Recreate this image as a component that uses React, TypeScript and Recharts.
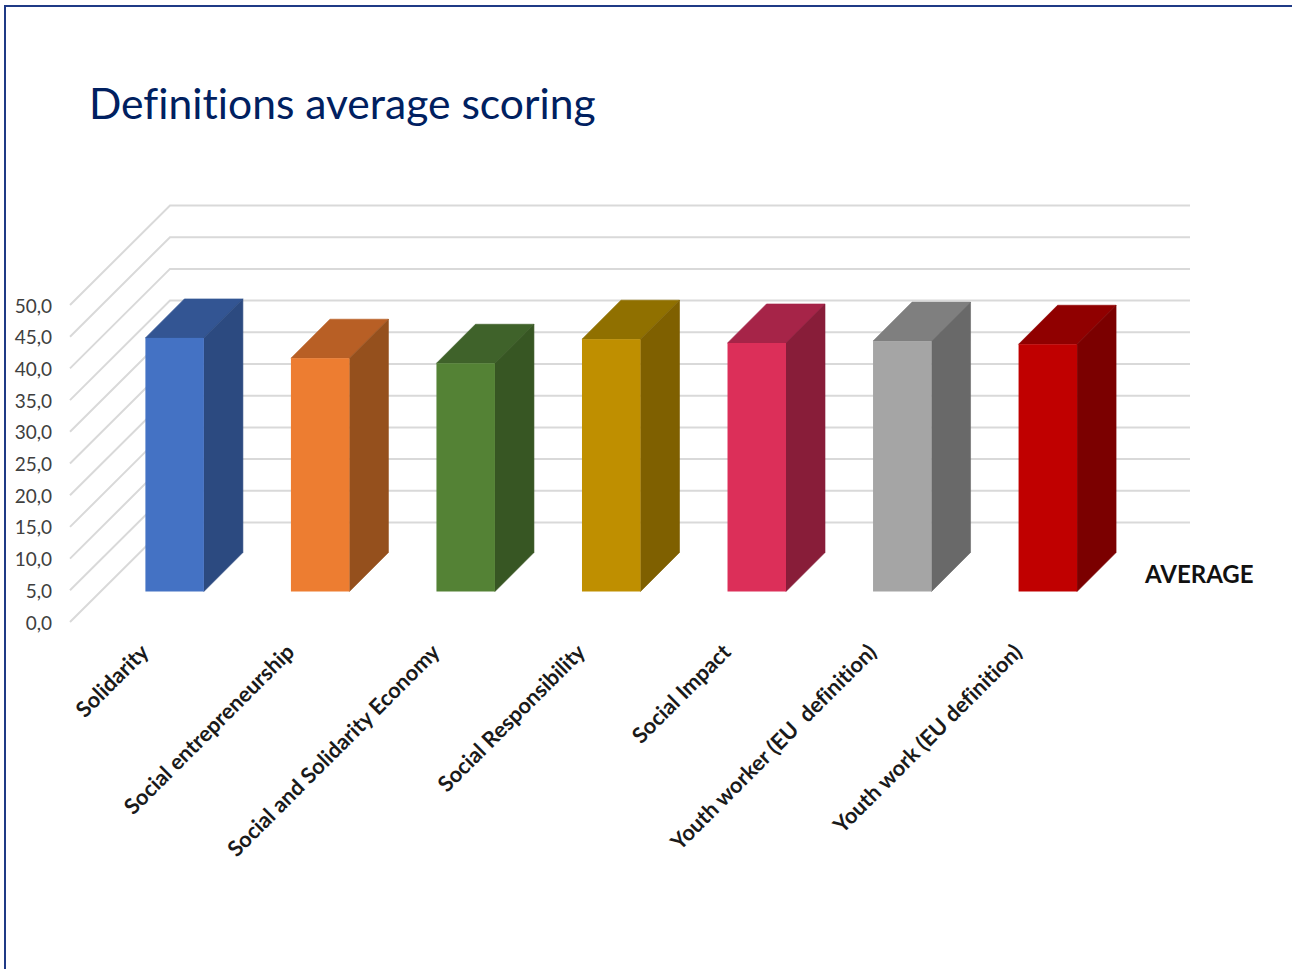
import React from 'react';
import { BarChart, Bar, XAxis, YAxis, CartesianGrid } from 'recharts';

const categories = [
  'Solidarity',
  'Social entrepreneurship',
  'Social and Solidarity Economy',
  'Social Responsibility',
  'Social Impact',
  'Youth worker (EU  definition)',
  'Youth work (EU definition)',
];
const averages = [40.0, 36.8, 36.0, 39.8, 39.2, 39.5, 39.0];
const yTicks = [0, 5, 10, 15, 20, 25, 30, 35, 40, 45, 50];

const frontColors = ['#4472C4', '#ED7D31', '#548235', '#BF8F00', '#DC2F59', '#A5A5A5', '#C00000'];
const topColors = ['#335593', '#B85F25', '#3F622A', '#907000', '#A62448', '#7F7F7F', '#900000'];
const sideColors = ['#2C4A80', '#95501D', '#375623', '#7F6000', '#881D39', '#696969', '#7B0000'];

const data = categories.map((name, i) => ({ name, average: averages[i] }));

const FONT = 'Lato, sans-serif';
const DEPTH = 39; // bar depth in the fake 3D view
const WALL_DX = 69; // bar plane to back wall
const FRONT_DY = 30.5; // bar plane to front edge of the floor

function Bar3D(props: any) {
  const { x, y, width, height, index } = props;
  const r = x + width;
  const b = y + height;
  return (
    <g strokeWidth={0.6}>
      <polygon points={`${x},${y} ${x + DEPTH},${y - DEPTH} ${r + DEPTH},${y - DEPTH} ${r},${y}`} fill={topColors[index]} stroke={topColors[index]} />
      <polygon points={`${r},${y} ${r + DEPTH},${y - DEPTH} ${r + DEPTH},${b - DEPTH} ${r},${b}`} fill={sideColors[index]} stroke={sideColors[index]} />
      <rect x={x} y={y} width={width} height={height} fill={frontColors[index]} />
    </g>
  );
}

function GridLine(props: any) {
  const { y1, index } = props;
  const back = y1 - WALL_DX;
  return (
    <g key={index}>
      <polyline
        points={`70,${y1 + FRONT_DY} 170,${back} 1190,${back}`}
        fill="none"
        stroke="#D9D9D9"
        strokeWidth={2}
      />
    </g>
  );
}

function YTick(props: any) {
  const { y, payload } = props;
  return (
    <text x={52} y={y + FRONT_DY} textAnchor="end" dominantBaseline="central" fontSize={19} fontFamily={FONT} fill="#404040">
      {payload.value.toFixed(1).replace('.', ',')}
    </text>
  );
}

function XTick(props: any) {
  const { x, y, payload } = props;
  const ax = x - 24;
  const ay = y + 54;
  return (
    <text
      x={ax}
      y={ay}
      textAnchor="end"
      fontSize={21.8}
      fontWeight={700}
      fontFamily={FONT}
      fill="#1a1a1a"
      style={{ whiteSpace: 'pre', fontVariantLigatures: 'none' }}
      transform={`rotate(-45 ${ax} ${ay})`}
    >
      {payload.value}
    </text>
  );
}

export default function App() {
  return (
    <div style={{ position: 'fixed', left: 0, top: 0, width: 1292, height: 969, background: '#fff', overflow: 'hidden' }}>
      <div style={{ position: 'absolute', left: 4, top: 5, width: 1286, height: 970, borderLeft: '2px solid #1F3A86', borderTop: '2px solid #1F3A86', borderRight: '2px solid #B4BCD8' }} />
      <div style={{ position: 'absolute', left: 89, top: 78, fontFamily: FONT, fontSize: 42.6, lineHeight: '50px', color: '#002060', whiteSpace: 'nowrap', fontVariantLigatures: 'none' }}>
        Definitions average scoring
      </div>
      <div style={{ position: 'absolute', left: 1145, top: 560, fontFamily: FONT, fontSize: 24, fontWeight: 700, lineHeight: '28px', color: '#111' }}>
        AVERAGE
      </div>
      <div style={{ position: 'absolute', left: 0, top: 0 }}>
        <BarChart
          width={1292}
          height={969}
          data={data}
          margin={{ top: 274.5, right: 171.9, bottom: 347.5, left: 100.4 }}
        >
          <CartesianGrid vertical={false} horizontal={GridLine as any} />
          <XAxis dataKey="name" interval={0} height={30} axisLine={false} tickLine={false} tick={XTick as any} />
          <YAxis width={1} domain={[0, 50]} ticks={yTicks} axisLine={false} tickLine={false} tick={YTick as any} />
          <Bar dataKey="average" barSize={58.5} shape={Bar3D as any} isAnimationActive={false} />
        </BarChart>
      </div>
    </div>
  );
}
